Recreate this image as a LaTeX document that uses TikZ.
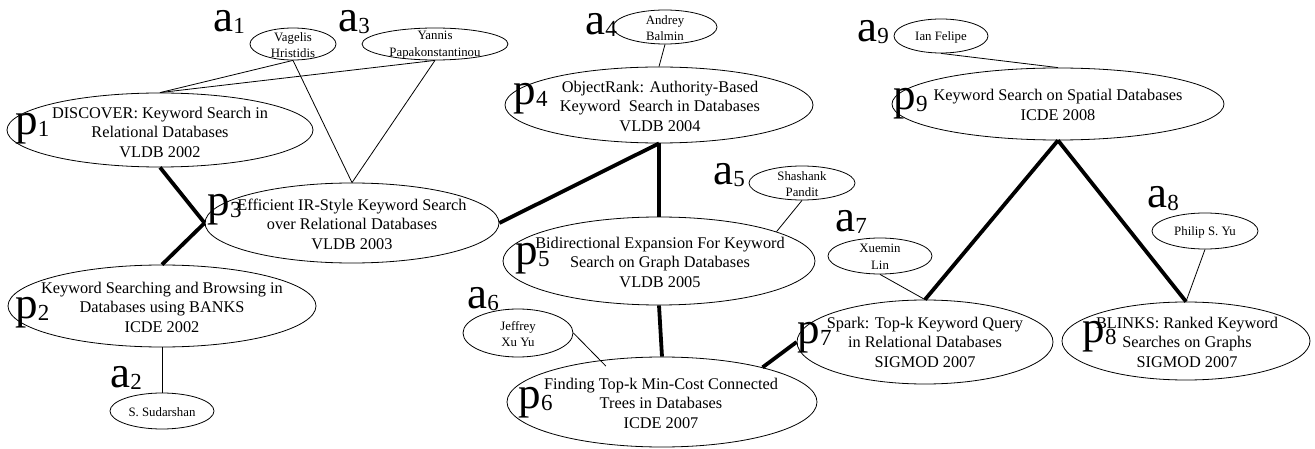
\documentclass[tikz,border=0pt]{standalone}
\usepackage{fontspec}
\setmainfont{Liberation Serif}
\usetikzlibrary{shapes.geometric}
\newcommand\lbltext[2]{#1\kern0.3pt\raisebox{-2pt}{\fontsize{23}{23}\selectfont #2}}
\begin{document}
\begin{tikzpicture}[x=1pt,y=-1pt,
  oval/.style={draw, ellipse, inner sep=0pt, line width=0.8pt},
  ttl/.style={align=center, inner sep=0pt, font=\fontsize{16.3}{19.5}\selectfont},
  atx/.style={align=center, inner sep=0pt, font=\fontsize{12.8}{16.5}\selectfont},
  lbl/.style={anchor=base west, inner sep=0pt, text height=21pt, text depth=9pt, font=\fontsize{45}{45}\selectfont},
  thin/.style={line width=0.8pt},
  thick/.style={line width=3.8pt}]
\useasboundingbox (0,0) rectangle (1315,449);
% papers
\node[oval, minimum width=306, minimum height=74] (p1) at (160,130) {};
\node[oval, minimum width=308, minimum height=82] (p2) at (162,306) {};
\node[oval, minimum width=294, minimum height=80] (p3) at (352,223) {};
\node[oval, minimum width=308, minimum height=76] (p4) at (659,105) {};
\node[oval, minimum width=312, minimum height=88] (p5) at (659,261) {};
\node[oval, minimum width=310, minimum height=90] (p6) at (662,402) {};
\node[oval, minimum width=256, minimum height=84] (p7) at (925,342) {};
\node[oval, minimum width=248, minimum height=78] (p8) at (1186,341) {};
\node[oval, minimum width=332, minimum height=72] (p9) at (1058,104) {};
% titles
\node[ttl] (t1) at (160,132) {DISCOVER: Keyword Search in\\Relational Databases\\VLDB 2002};
\node[ttl] (t2) at (162,307) {Keyword Searching and Browsing in\\Databases using BANKS\\ICDE 2002};
\node[ttl] (t3) at (352,224) {Efficient IR-Style Keyword Search\\over Relational Databases\\VLDB 2003};
\node[ttl] (t4) at (660,106) {ObjectRank: Authority-Based\\Keyword\ \ Search in Databases\\VLDB 2004};
\node[ttl] (t5) at (660,262) {Bidirectional Expansion For Keyword\\Search on Graph Databases\\VLDB 2005};
\node[ttl] (t6) at (661,403) {Finding Top-k Min-Cost Connected\\Trees in Databases\\ICDE 2007};
\node[ttl] (t7) at (925,342) {Spark: Top-k Keyword Query\\in Relational Databases\\SIGMOD 2007};
\node[ttl] (t8) at (1187,342) {BLINKS: Ranked Keyword\\Searches on Graphs\\SIGMOD 2007};
\node[ttl] (t9) at (1058,105) {Keyword Search on Spatial Databases\\ICDE 2008};
% authors
\node[oval, minimum width=86, minimum height=32] (au1) at (293,44) {};
\node[oval, minimum width=146, minimum height=32] (au3) at (435,44) {};
\node[oval, minimum width=104, minimum height=36] (au2) at (162,411) {};
\node[oval, minimum width=104, minimum height=34] (au4) at (665,27) {};
\node[oval, minimum width=106, minimum height=34] (au5) at (802,183) {};
\node[oval, minimum width=110, minimum height=48] (au6) at (518,333) {};
\node[oval, minimum width=104, minimum height=36] (au7) at (880,256) {};
\node[oval, minimum width=106, minimum height=36] (au8) at (1205,231) {};
\node[oval, minimum width=94, minimum height=34] (au9) at (941,36) {};
\node[atx] (n1) at (293,45) {Vagelis\\Hristidis};
\node[atx] (n3) at (435,45) {Yannis\\Papakonstantinou};
\node[atx] (n2) at (162,412) {S. Sudarshan};
\node[atx] (n4) at (665,28) {Andrey\\Balmin};
\node[atx] (n5) at (802,184) {Shashank\\Pandit};
\node[atx] (n6) at (518,334) {Jeffrey\\Xu Yu};
\node[atx] (n7) at (880,257) {Xuemin\\Lin};
\node[atx] (n8) at (1205,232) {Philip S. Yu};
\node[atx] (n9) at (941,37) {Ian Felipe};
% labels
\node[lbl] (la1) at (213,32) {\lbltext{a}{1}};
\node[lbl] (la3) at (338,32) {\lbltext{a}{3}};
\node[lbl] (la2) at (110,387) {\lbltext{a}{2}};
\node[lbl] (la4) at (585,35) {\lbltext{a}{4}};
\node[lbl] (la5) at (713,185) {\lbltext{a}{5}};
\node[lbl] (la6) at (467,308) {\lbltext{a}{6}};
\node[lbl] (la7) at (835,232) {\lbltext{a}{7}};
\node[lbl] (la8) at (1147,208) {\lbltext{a}{8}};
\node[lbl] (la9) at (857,42) {\lbltext{a}{9}};
\node[lbl] (lp1) at (15,135) {\lbltext{p}{1}};
\node[lbl] (lp2) at (15,318) {\lbltext{p}{2}};
\node[lbl] (lp3) at (207,216) {\lbltext{p}{3}};
\node[lbl] (lp4) at (513,105) {\lbltext{p}{4}};
\node[lbl] (lp5) at (515,265) {\lbltext{p}{5}};
\node[lbl] (lp6) at (518,408) {\lbltext{p}{6}};
\node[lbl] (lp7) at (797,343) {\lbltext{p}{7}};
\node[lbl] (lp8) at (1082,342) {\lbltext{p}{8}};
\node[lbl] (lp9) at (893,110) {\lbltext{p}{9}};
% author links
\draw[thin] (au1.south) -- (p1.north);
\draw[thin] (au3.south) -- (p1.north);
\draw[thin] (au1.south) -- (p3.north);
\draw[thin] (au3.south) -- (p3.north);
\draw[thin] (au2.north) -- (p2.south);
\draw[thin] (au4.south) -- (p4.north);
\draw[thin] (au5.south) -- (p5.14);
\draw[thin, shorten >=-8pt] (au6.east) -- (p6.146);
\draw[thin] (au7.south) -- (p7.north);
\draw[thin] (au8.south) -- (p8.north);
\draw[thin] (au9.south) -- (p9.north);
% citation links
\draw[thick] (p1.south) -- (p3.west);
\draw[thick] (p3.west) -- (p2.north);
\draw[thick] (p3.east) -- (p4.south);
\draw[thick] (p4.south) -- (p5.north);
\draw[thick] (p5.south) -- (p6.north);
\draw[thick] (p6.19) -- (p7.west);
\draw[thick] (p9.south) -- (p7.north);
\draw[thick] (p9.south) -- (p8.north);
\end{tikzpicture}
\end{document}
